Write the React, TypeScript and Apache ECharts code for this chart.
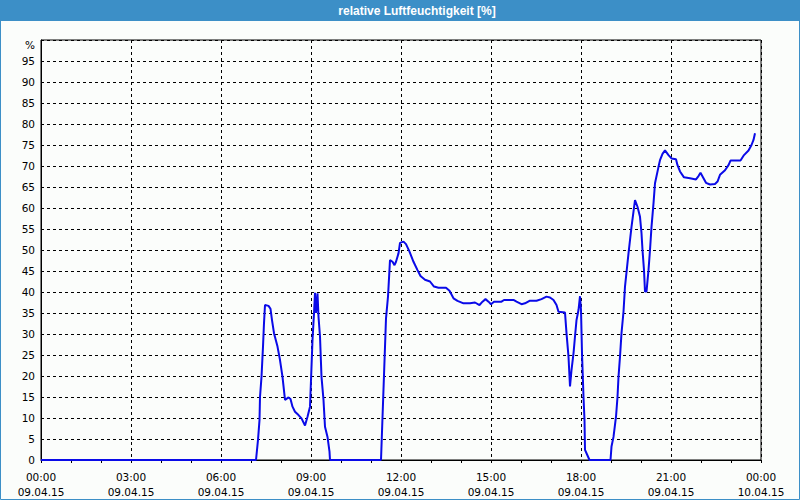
import React, { useEffect, useRef } from "react";
import * as echarts from "echarts";

// minutes since 09.04.15 00:00
const timesMin: number[] = [
  0, 430, 434, 437, 438, 441, 444, 446, 448, 455, 459, 462, 466, 473, 478, 483, 488, 495, 499, 503,
  508, 515, 521, 528, 533, 538, 540, 543, 546, 548, 550, 553, 555, 558, 561, 565, 568, 573, 577, 578,
  680, 690, 694, 698, 703, 707, 710, 715, 718, 725, 730, 737, 745, 753, 759, 768, 778, 786, 795, 810,
  817, 825, 833, 845, 858, 868, 877, 883, 889, 895, 900, 906, 921, 926, 945, 951, 961, 968, 977, 991,
  1001, 1011, 1018, 1025, 1031, 1035, 1048, 1051, 1055, 1058, 1061, 1065, 1068, 1071, 1075, 1078, 1080, 1082, 1085, 1087,
  1088, 1091, 1097, 1139, 1141, 1145, 1150, 1153, 1155, 1158, 1161, 1165, 1168, 1175, 1181, 1188, 1193, 1198, 1201, 1203,
  1206, 1208, 1211, 1215, 1218, 1221, 1225, 1228, 1235, 1238, 1243, 1248, 1255, 1261, 1270, 1273, 1278, 1286, 1298, 1310,
  1315, 1319, 1325, 1330, 1338, 1348, 1353, 1358, 1368, 1375, 1379, 1399, 1406, 1415, 1421, 1425, 1428,
];

const humidity: number[] = [
  0, 0, 4.8, 9.5, 15, 19.8, 27, 32.6, 36.9, 36.7, 36, 33.3, 30.2, 27, 23.8, 19.8, 14.3, 14.9, 14.5, 12.7,
  11.5, 10.7, 9.9, 8.2, 10.3, 12.7, 19, 28.6, 34.9, 39.8, 35, 39.7, 34.1, 29.4, 19.8, 14.3, 7.9, 5.5, 2, 0,
  0, 33.7, 38.9, 47.6, 47.2, 46.4, 47.2, 49.2, 51.7, 52, 51.4, 49.6, 47.2, 45.2, 43.8, 42.9, 42.5, 41.3, 41, 41,
  40.3, 38.5, 37.9, 37.3, 37.3, 37.5, 36.9, 37.7, 38.3, 37.7, 37.1, 37.7, 37.7, 38.1, 38.1, 37.7, 37.1, 37.3, 37.9, 37.9,
  38.3, 38.9, 38.7, 38.1, 36.9, 35.3, 35.1, 30.2, 24.6, 17.5, 21.4, 25.4, 29.4, 33.3, 35.7, 39, 35.7, 25.4, 15, 9.5,
  2.4, 1.6, 0, 0, 3.2, 5.5, 10.3, 15, 19.8, 24.6, 30.2, 35.3, 41.3, 49.2, 55.5, 61.9, 60.3, 57.9, 54, 50,
  45.2, 40.1, 40.1, 45.2, 50, 55.5, 61.1, 65.9, 69.8, 71.4, 72.9, 73.7, 72.6, 71.8, 71.6, 70.2, 68.7, 67.3, 67.1, 66.8,
  67.6, 68.4, 67.1, 66, 65.6, 65.7, 66.3, 67.9, 69, 70.2, 71.3, 71.3, 72.6, 73.7, 75, 76.2, 77.8,
];

const timeLabels: string[] = ["00:00", "03:00", "06:00", "09:00", "12:00", "15:00", "18:00", "21:00", "00:00"];
const dateLabels: string[] = ["09.04.15", "09.04.15", "09.04.15", "09.04.15", "09.04.15", "09.04.15", "09.04.15", "09.04.15", "10.04.15"];

const titleText = "relative Luftfeuchtigkeit [%]";
const unitText = "%";

export default function App() {
  const ref = useRef<HTMLDivElement>(null);
  useEffect(() => {
    if (!ref.current) return;
    const chart = echarts.init(ref.current, undefined, { renderer: "svg" });
    const blue = "#3c8fc7";
    const labelFont = "DejaVu Sans";
    chart.setOption({
      animation: false,
      backgroundColor: "#fbfdfb",
      graphic: [
        { type: "rect", shape: { x: 0, y: 0, width: 800, height: 21 }, style: { fill: blue }, silent: true },
        { type: "rect", shape: { x: 0.5, y: 0.5, width: 799, height: 499 }, style: { fill: "none", stroke: blue, lineWidth: 1 }, silent: true },
        {
          type: "text",
          x: 417,
          y: 11,
          style: {
            text: titleText,
            fill: "#ffffff",
            font: "bold 12px 'Liberation Sans'",
            align: "center",
            verticalAlign: "middle",
            textAlign: "center",
            textVerticalAlign: "middle",
          },
        },
        {
          type: "text",
          x: 35,
          y: 45,
          style: {
            text: unitText,
            fill: "#000",
            font: `10.5px '${labelFont}'`,
            align: "right",
            verticalAlign: "middle",
            textAlign: "right",
            textVerticalAlign: "middle",
          },
        },
      ],
      grid: {
        left: 41,
        right: 39,
        top: 40,
        bottom: 40,
        show: true,
        borderColor: "#000",
        borderWidth: 1,
        backgroundColor: "transparent",
      },
      xAxis: {
        type: "value",
        min: 0,
        max: 1440,
        interval: 180,
        axisLine: { show: true, lineStyle: { color: "#000", width: 1 } },
        axisTick: { show: true, length: 3, lineStyle: { color: "#000" } },
        minorTick: { show: true, splitNumber: 3, length: 3, lineStyle: { color: "#000" } },
        splitLine: { show: true, lineStyle: { color: "#000", type: [3, 3], width: 1 } },
        axisLabel: {
          color: "#000",
          fontFamily: labelFont,
          fontSize: 10.5,
          lineHeight: 15,
          margin: 9,
          formatter: (v: number) => {
            const i = Math.round(v / 180);
            return `${timeLabels[i]}\n${dateLabels[i]}`;
          },
        },
      },
      yAxis: {
        type: "value",
        min: 0,
        max: 100,
        interval: 5,
        axisLine: { show: true, lineStyle: { color: "#000", width: 1 } },
        axisTick: { show: false },
        splitLine: { show: true, lineStyle: { color: "#000", type: [3, 3], width: 1 } },
        axisLabel: {
          color: "#000",
          fontFamily: labelFont,
          fontSize: 10.5,
          margin: 6,
          formatter: (v: number) => (v >= 100 ? "" : String(v)),
        },
      },
      series: [
        {
          type: "line",
          data: timesMin.map((t, i) => [t, humidity[i]]),
          showSymbol: false,
          lineStyle: { color: "#0a0ae8", width: 2 },
          itemStyle: { color: "#0a0ae8" },
          silent: true,
        },
      ],
    });
    return () => chart.dispose();
  }, []);
  return <div ref={ref} style={{ position: "absolute", left: 0, top: 0, width: 800, height: 500 }} />;
}
